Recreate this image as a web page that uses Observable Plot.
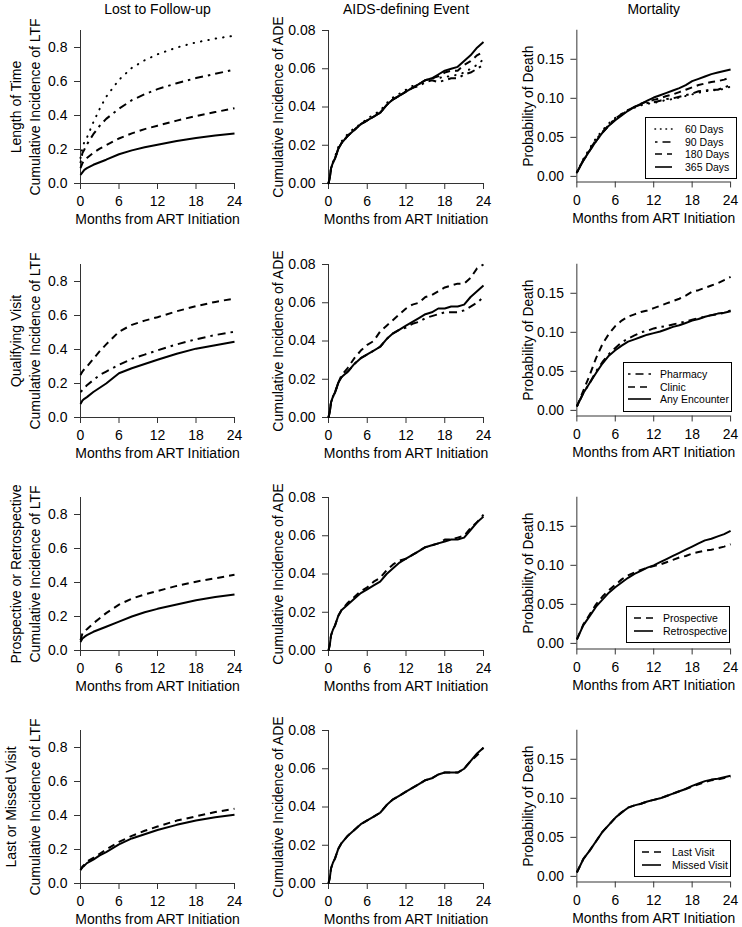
<!DOCTYPE html>
<html>
<head>
<meta charset="utf-8">
<script src="https://cdn.jsdelivr.net/npm/d3@7"></script>
<script src="https://cdn.jsdelivr.net/npm/@observablehq/plot@0.6"></script>
<style>
  html, body { margin: 0; padding: 0; background: #fff; }
  body { width: 742px; height: 927px; overflow: hidden; font-family: "Liberation Sans", Arial, Helvetica, sans-serif; }
  #wrap { position: relative; width: 742px; height: 927px; }
  .panel { position: absolute; }
  .legend { position: absolute; box-sizing: border-box; border: 1px solid #000; background: #fff; padding: 5px 0 5px 0; font-size: 10.5px; color: #000; }
  .legend .entry { display: flex; align-items: center; height: 12.5px; white-space: nowrap; }
  .legend svg { flex: none; display: block; }
</style>
</head>
<body>
<div id="wrap"></div>
<script>
// ---------------- text ----------------
const colTitles = ["Lost to Follow-up", "AIDS-defining Event", "Mortality"];
const rowTitles = ["Length of Time", "Qualifying Visit", "Prospective or Retrospective", "Last or Missed Visit"];
const yLabels = ["Cumulative Incidence of LTF", "Cumulative Incidence of ADE", "Probability of Death"];
const xLabel = "Months from ART Initiation";

// ---------------- ticks ----------------
const xTicks = [0, 6, 12, 18, 24];
const ltfTicks = [0, 0.2, 0.4, 0.6, 0.8];
const adeTicks = [0, 0.02, 0.04, 0.06, 0.08];
const mortTicks = [0, 0.05, 0.10, 0.15];

// ---------------- series names ----------------
const timeNames = ["60 Days", "90 Days", "180 Days", "365 Days"];
const visitNames = ["Pharmacy", "Clinic", "Any Encounter"];
const prNames = ["Prospective", "Retrospective"];
const lmNames = ["Last Visit", "Missed Visit"];

// ---------------- time grids (months) ----------------
const ltfMonths = [0, 0.3, 0.6, 1, 2, 3, 4, 6, 8, 10, 12, 15, 18, 21, 24];
const adeMonths = [0, 0.2, 0.4, 0.7, 1, 1.5, 2, 3, 4, 5, 6, 7, 8, 9, 10, 11, 12, 13, 14, 15, 16, 17, 18, 19, 20, 21, 22, 23, 24];
const mortMonths = [0, 1, 2, 3, 4, 5, 6, 7, 8, 9, 10, 11, 12, 13, 14, 15, 16, 17, 18, 19, 20, 21, 22, 23, 24];

// ---------------- Lost to follow-up ----------------
const ltf60  = [0.15, 0.21, 0.245, 0.27, 0.36, 0.44, 0.51, 0.61, 0.68, 0.725, 0.76, 0.80, 0.83, 0.852, 0.87];
const ltf90  = [0.12, 0.18, 0.20, 0.23, 0.29, 0.34, 0.38, 0.44, 0.49, 0.525, 0.555, 0.59, 0.62, 0.645, 0.67];
const ltf180 = [0.09, 0.12, 0.135, 0.15, 0.18, 0.205, 0.225, 0.265, 0.295, 0.32, 0.34, 0.37, 0.397, 0.42, 0.443];
const ltf365 = [0.05, 0.065, 0.08, 0.09, 0.11, 0.125, 0.14, 0.172, 0.195, 0.213, 0.228, 0.25, 0.268, 0.282, 0.294];

const ltfPharm  = [0.15, 0.16, 0.17, 0.19, 0.22, 0.25, 0.27, 0.31, 0.345, 0.37, 0.395, 0.43, 0.46, 0.485, 0.505];
const ltfClinic = [0.25, 0.27, 0.285, 0.30, 0.345, 0.39, 0.43, 0.505, 0.545, 0.57, 0.59, 0.625, 0.655, 0.68, 0.70];
const ltfAny    = [0.08, 0.10, 0.11, 0.12, 0.15, 0.175, 0.20, 0.26, 0.29, 0.315, 0.34, 0.375, 0.405, 0.425, 0.445];

const ltfProsp = [0.06, 0.10, 0.115, 0.125, 0.16, 0.19, 0.22, 0.27, 0.305, 0.33, 0.35, 0.38, 0.405, 0.425, 0.445];
const ltfRetro = [0.05, 0.07, 0.08, 0.09, 0.11, 0.125, 0.14, 0.17, 0.20, 0.225, 0.245, 0.27, 0.295, 0.315, 0.33];

const ltfLast   = [0.08, 0.10, 0.11, 0.13, 0.15, 0.175, 0.20, 0.245, 0.28, 0.31, 0.335, 0.37, 0.395, 0.42, 0.44];
const ltfMissed = [0.08, 0.095, 0.105, 0.12, 0.14, 0.165, 0.185, 0.23, 0.265, 0.29, 0.315, 0.345, 0.37, 0.39, 0.405];

// ---------------- AIDS-defining event ----------------
const ade60  = [0, 0.003, 0.008, 0.011, 0.014, 0.019, 0.022, 0.026, 0.029, 0.031, 0.034, 0.036, 0.038, 0.042, 0.045, 0.047, 0.049, 0.051, 0.052, 0.054, 0.055, 0.055, 0.056, 0.056, 0.057, 0.058, 0.060, 0.062, 0.065];
const ade90  = [0, 0.003, 0.008, 0.011, 0.013, 0.018, 0.021, 0.025, 0.028, 0.031, 0.033, 0.035, 0.037, 0.041, 0.044, 0.046, 0.048, 0.050, 0.051, 0.053, 0.054, 0.053, 0.054, 0.055, 0.055, 0.057, 0.058, 0.060, 0.062];
const ade180 = [0, 0.003, 0.008, 0.011, 0.013, 0.018, 0.021, 0.025, 0.028, 0.031, 0.033, 0.035, 0.037, 0.041, 0.044, 0.046, 0.048, 0.050, 0.052, 0.054, 0.055, 0.056, 0.058, 0.059, 0.059, 0.062, 0.064, 0.067, 0.069];
const ade365 = [0, 0.003, 0.008, 0.011, 0.013, 0.018, 0.021, 0.025, 0.028, 0.031, 0.033, 0.035, 0.037, 0.041, 0.044, 0.046, 0.048, 0.050, 0.052, 0.054, 0.055, 0.057, 0.059, 0.060, 0.061, 0.064, 0.067, 0.071, 0.074];

const adePharm  = [0, 0.003, 0.008, 0.011, 0.013, 0.018, 0.021, 0.024, 0.028, 0.031, 0.033, 0.035, 0.037, 0.041, 0.044, 0.046, 0.047, 0.049, 0.050, 0.052, 0.053, 0.054, 0.055, 0.055, 0.055, 0.056, 0.058, 0.060, 0.063];
const adeClinic = [0, 0.003, 0.008, 0.011, 0.013, 0.018, 0.022, 0.026, 0.031, 0.035, 0.038, 0.040, 0.045, 0.048, 0.051, 0.054, 0.057, 0.059, 0.060, 0.063, 0.064, 0.066, 0.068, 0.069, 0.070, 0.070, 0.073, 0.078, 0.080];
const adeAny    = [0, 0.003, 0.008, 0.011, 0.013, 0.018, 0.021, 0.024, 0.028, 0.031, 0.033, 0.035, 0.037, 0.041, 0.044, 0.046, 0.048, 0.050, 0.052, 0.054, 0.055, 0.057, 0.057, 0.058, 0.058, 0.059, 0.063, 0.066, 0.069];

const adeProsp = [0, 0.003, 0.008, 0.011, 0.013, 0.018, 0.021, 0.025, 0.028, 0.031, 0.033, 0.036, 0.038, 0.042, 0.045, 0.047, 0.048, 0.050, 0.052, 0.054, 0.055, 0.056, 0.058, 0.058, 0.059, 0.060, 0.064, 0.067, 0.071];
const adeRetro = [0, 0.003, 0.008, 0.011, 0.013, 0.018, 0.021, 0.024, 0.027, 0.030, 0.032, 0.034, 0.036, 0.040, 0.043, 0.046, 0.048, 0.050, 0.052, 0.054, 0.055, 0.056, 0.057, 0.058, 0.058, 0.059, 0.063, 0.067, 0.070];

const adeLast   = [0, 0.003, 0.008, 0.011, 0.013, 0.018, 0.021, 0.025, 0.028, 0.031, 0.033, 0.035, 0.037, 0.041, 0.044, 0.046, 0.048, 0.050, 0.052, 0.054, 0.055, 0.057, 0.058, 0.058, 0.058, 0.060, 0.064, 0.067, 0.071];
const adeMissed = [0, 0.003, 0.008, 0.011, 0.013, 0.018, 0.021, 0.025, 0.028, 0.031, 0.033, 0.035, 0.037, 0.041, 0.044, 0.046, 0.048, 0.050, 0.052, 0.054, 0.055, 0.057, 0.058, 0.058, 0.058, 0.060, 0.064, 0.068, 0.071];

// ---------------- Mortality ----------------
const mort60  = [0.005, 0.022, 0.036, 0.049, 0.059, 0.068, 0.075, 0.080, 0.085, 0.088, 0.091, 0.093, 0.094, 0.096, 0.098, 0.099, 0.101, 0.103, 0.105, 0.107, 0.109, 0.110, 0.111, 0.112, 0.115];
const mort90  = [0.005, 0.021, 0.034, 0.047, 0.057, 0.066, 0.074, 0.080, 0.085, 0.089, 0.092, 0.094, 0.095, 0.097, 0.099, 0.100, 0.102, 0.104, 0.106, 0.109, 0.110, 0.111, 0.111, 0.114, 0.117];
const mort180 = [0.005, 0.020, 0.033, 0.045, 0.056, 0.065, 0.073, 0.079, 0.085, 0.089, 0.093, 0.096, 0.098, 0.100, 0.103, 0.105, 0.108, 0.111, 0.114, 0.117, 0.119, 0.121, 0.122, 0.124, 0.127];
const mort365 = [0.005, 0.020, 0.033, 0.045, 0.056, 0.065, 0.072, 0.078, 0.084, 0.089, 0.093, 0.097, 0.101, 0.104, 0.107, 0.110, 0.113, 0.117, 0.122, 0.125, 0.128, 0.131, 0.133, 0.135, 0.137];

const mortPharm  = [0.005, 0.022, 0.035, 0.050, 0.062, 0.072, 0.080, 0.087, 0.092, 0.096, 0.100, 0.102, 0.105, 0.107, 0.108, 0.110, 0.112, 0.114, 0.116, 0.118, 0.120, 0.122, 0.123, 0.125, 0.128];
const mortClinic = [0.005, 0.025, 0.045, 0.067, 0.085, 0.098, 0.108, 0.115, 0.120, 0.123, 0.126, 0.128, 0.131, 0.134, 0.137, 0.140, 0.143, 0.147, 0.152, 0.154, 0.157, 0.160, 0.163, 0.167, 0.171];
const mortAny    = [0.005, 0.022, 0.035, 0.048, 0.060, 0.070, 0.077, 0.083, 0.088, 0.091, 0.094, 0.097, 0.099, 0.101, 0.104, 0.107, 0.109, 0.112, 0.115, 0.117, 0.120, 0.122, 0.124, 0.125, 0.127];

const mortProsp = [0.005, 0.024, 0.037, 0.050, 0.060, 0.068, 0.075, 0.082, 0.087, 0.091, 0.094, 0.097, 0.099, 0.101, 0.104, 0.107, 0.110, 0.112, 0.115, 0.117, 0.119, 0.120, 0.122, 0.124, 0.127];
const mortRetro = [0.005, 0.023, 0.035, 0.047, 0.056, 0.065, 0.072, 0.078, 0.084, 0.089, 0.093, 0.097, 0.100, 0.104, 0.108, 0.112, 0.116, 0.120, 0.124, 0.128, 0.132, 0.134, 0.137, 0.140, 0.144];

const mortLast   = [0.005, 0.022, 0.033, 0.045, 0.057, 0.066, 0.075, 0.082, 0.088, 0.091, 0.093, 0.096, 0.098, 0.100, 0.103, 0.106, 0.109, 0.112, 0.115, 0.118, 0.121, 0.123, 0.124, 0.126, 0.127];
const mortMissed = [0.005, 0.022, 0.033, 0.045, 0.057, 0.066, 0.075, 0.082, 0.088, 0.091, 0.093, 0.096, 0.098, 0.100, 0.103, 0.106, 0.109, 0.112, 0.116, 0.119, 0.122, 0.124, 0.125, 0.127, 0.129];

// ---------------- assembly ----------------
const rowNames = [timeNames, visitNames, prNames, lmNames];
const grid = [
  [[ltf60, ltf90, ltf180, ltf365], [ade60, ade90, ade180, ade365], [mort60, mort90, mort180, mort365]],
  [[ltfPharm, ltfClinic, ltfAny], [adePharm, adeClinic, adeAny], [mortPharm, mortClinic, mortAny]],
  [[ltfProsp, ltfRetro], [adeProsp, adeRetro], [mortProsp, mortRetro]],
  [[ltfLast, ltfMissed], [adeLast, adeMissed], [mortLast, mortMissed]]
];
const colMonths = [ltfMonths, adeMonths, mortMonths];
const colTicks = [ltfTicks, adeTicks, mortTicks];

// ---------------- styles / layout ----------------
const FONT = '"Liberation Sans", Arial, Helvetica, sans-serif';
const DASH = {
  solid:   { dash: null, cap: "butt" },
  dashed:  { dash: "7,5", cap: "butt" },
  dotted:  { dash: "0.5,7", cap: "round" },
  dotdash: { dash: "2.5,5,8,5", cap: "butt" }
};
const rowStyles = [
  ["dotted", "dotdash", "dashed", "solid"],
  ["dotdash", "dashed", "solid"],
  ["dashed", "solid"],
  ["dashed", "solid"]
];
const colDomain = [[0, 0.9], [0, 0.08], [-0.0072, 0.1872]];
const colFormat = [d3.format(".1f"), d3.format(".2f"), d3.format(".2f")];
const colLeft = [0, 248, 496];
const colMarginLeft = [80, 80, 81];
const colMarginRight = [14, 13, 12];
const colYLabelDx = [-45, -49.5, -48.5];
const rowTop = [0, 234, 467, 700];
const rowLabelDx = [-63.5, -63.5, -63.5, -68.5];
const legendBoxes = [
  { left: 645, top: 117, width: 92, x1: 10, x2: 27, tx: 40 },
  { left: 623, top: 362, width: 109, x1: 5, x2: 28, tx: 37 },
  { left: 626, top: 606, width: 104, x1: 8, x2: 27, tx: 37 },
  { left: 634, top: 840, width: 97, x1: 8, x2: 27, tx: 38 }
];
const labelText = { fontSize: 14, fill: "#000", textAnchor: "middle", lineAnchor: "middle" };

const wrap = document.getElementById("wrap");

for (let r = 0; r < 4; r++) {
  for (let c = 0; c < 3; c++) {
    const months = colMonths[c];
    const seriesList = grid[r][c];
    const lines = seriesList.map((vals, k) => {
      const data = months.map((m, i) => ({ month: m, value: vals[i] }));
      const st = DASH[rowStyles[r][k]];
      const opts = { x: "month", y: "value", stroke: "#000", strokeWidth: 2, strokeLinejoin: "round", strokeLinecap: st.cap };
      if (st.dash) opts.strokeDasharray = st.dash;
      return Plot.line(data, opts);
    });
    const marks = [
      Plot.ruleY([colDomain[c][0]], { stroke: "#333", strokeWidth: 1 }),
      Plot.ruleX([0], { stroke: "#333", strokeWidth: 1 }),
      Plot.axisX({ ticks: xTicks, tickFormat: d => String(d), tickSize: 6, tickPadding: 7, label: null, stroke: "#333" }),
      Plot.axisY({ ticks: colTicks[c], tickFormat: colFormat[c], tickSize: 6, tickPadding: 7, label: null, stroke: "#333" }),
      ...lines,
      Plot.text([yLabels[c]], { ...labelText, frameAnchor: "left", rotate: -90, dx: colYLabelDx[c] }),
      Plot.text([xLabel], { ...labelText, frameAnchor: "bottom", dy: 36.5 })
    ];
    if (c === 0) marks.push(Plot.text([rowTitles[r]], { ...labelText, frameAnchor: "left", rotate: -90, dx: rowLabelDx[r] }));
    if (r === 0) marks.push(Plot.text([colTitles[c]], { ...labelText, frameAnchor: "top", dy: -20.5 }));

    const svg = Plot.plot({
      width: 248,
      height: 233,
      marginLeft: colMarginLeft[c],
      marginRight: colMarginRight[c],
      marginTop: 30,
      marginBottom: 50,
      style: { fontFamily: FONT, fontSize: "14px", color: "#000", background: "none", overflow: "visible" },
      x: { domain: [0, 24] },
      y: { domain: colDomain[c] },
      marks
    });
    const div = document.createElement("div");
    div.className = "panel";
    div.style.left = colLeft[c] + "px";
    div.style.top = rowTop[r] + "px";
    div.appendChild(svg);
    wrap.appendChild(div);
  }
}

// ---------------- legends (mortality column) ----------------
for (let r = 0; r < 4; r++) {
  const box = legendBoxes[r];
  const lg = document.createElement("div");
  lg.className = "legend";
  lg.style.left = box.left + "px";
  lg.style.top = box.top + "px";
  lg.style.width = box.width + "px";
  rowNames[r].forEach((name, k) => {
    const entry = document.createElement("div");
    entry.className = "entry";
    const ns = "http://www.w3.org/2000/svg";
    const s = document.createElementNS(ns, "svg");
    s.setAttribute("width", box.tx - 1);
    s.setAttribute("height", 12);
    const ln = document.createElementNS(ns, "line");
    ln.setAttribute("x1", box.x1 - 1);
    ln.setAttribute("x2", box.x2 - 1);
    ln.setAttribute("y1", 6);
    ln.setAttribute("y2", 6);
    ln.setAttribute("stroke", "#000");
    ln.setAttribute("stroke-width", 1.6);
    const st = DASH[rowStyles[r][k]];
    ln.setAttribute("stroke-linecap", st.cap);
    if (st.dash) ln.setAttribute("stroke-dasharray", st.dash === "0.5,7" ? "0.5,5" : st.dash);
    s.appendChild(ln);
    const t = document.createElement("span");
    t.textContent = name;
    entry.appendChild(s);
    entry.appendChild(t);
    lg.appendChild(entry);
  });
  wrap.appendChild(lg);
}
</script>
</body>
</html>
